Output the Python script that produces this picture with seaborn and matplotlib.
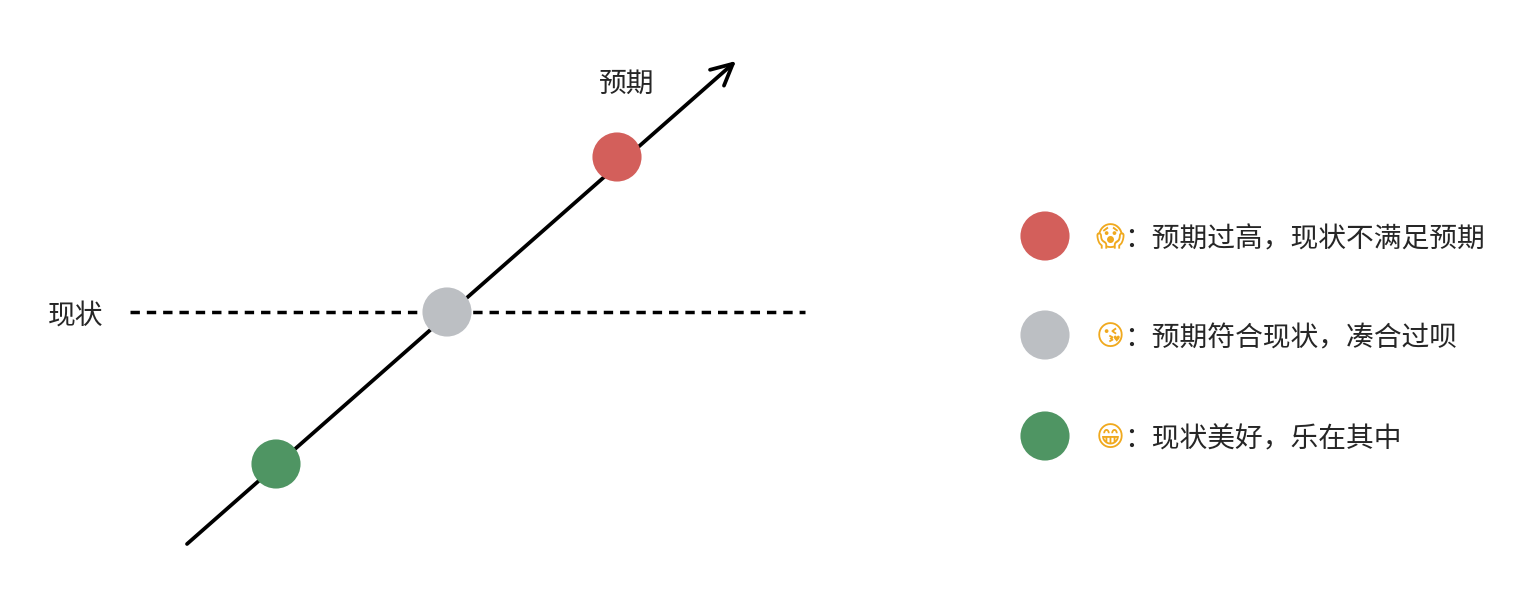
import matplotlib
matplotlib.use('Agg')
import matplotlib.pyplot as plt
import seaborn as sns
import pandas as pd

# 画布按像素坐标布置（y 向下）
states = ['预期过高', '预期符合现状', '现状美好']
state_x = [617, 447, 276]
state_y = [157, 312, 464]
colors = ['#D35F5B', '#BCBFC3', '#4F9563']
emojis = ['😱', '😘', '😁']
notes = ['预期过高，现状不满足预期', '预期符合现状，凑合过呗', '现状美好，乐在其中']
legend_x = [1045, 1045, 1045]
legend_y = [236, 335, 436]

arrow_start = (187, 544)
arrow_end = (736, 61)
status_x = [130, 805]
status_y = [312, 312]

sns.set_theme(style='white')
plt.rcParams['font.family'] = ['Noto Sans CJK SC', 'DejaVu Sans']

fig = plt.figure(figsize=(15.36, 6.10), dpi=100)
ax = fig.add_axes([0, 0, 1, 1])

# 预期轴（箭头）
ax.annotate('', xy=arrow_end, xytext=arrow_start,
            arrowprops=dict(arrowstyle='->', lw=2.7, color='black',
                            mutation_scale=38, shrinkA=0, shrinkB=0))
# 现状线（虚线）
ax.plot(status_x, status_y, color='black', lw=2.5, linestyle=(0, (2.7, 2.0)), zorder=1)

df = pd.DataFrame({'x': state_x, 'y': state_y, 'state': states})
sns.scatterplot(data=df, x='x', y='y', hue='state', palette=colors, s=1250,
                linewidth=0, legend=False, ax=ax, zorder=3)

df_leg = pd.DataFrame({'x': legend_x, 'y': legend_y, 'state': states})
sns.scatterplot(data=df_leg, x='x', y='y', hue='state', palette=colors, s=1250,
                linewidth=0, legend=False, ax=ax, zorder=3)
ax.set_xlabel('')
ax.set_ylabel('')
ax.set_xlim(0, 1536)
ax.set_ylim(610, 0)
ax.axis('off')

txt = '#262626'
ax.text(627, 84, '预期', fontsize=20, color=txt, ha='center', va='center')
ax.text(76, 316, '现状', fontsize=20, color=txt, ha='center', va='center')

for e, n, y in zip(emojis, notes, legend_y):
    ax.text(1096, y + 2, e, fontsize=20, color='#F0A91E', ha='left', va='center',
            family=['DejaVu Sans'], fontweight='bold')
    ax.text(1124, y + 3, '：' + n, fontsize=20, color=txt, ha='left', va='center')

fig.savefig('out.png', dpi=100)
